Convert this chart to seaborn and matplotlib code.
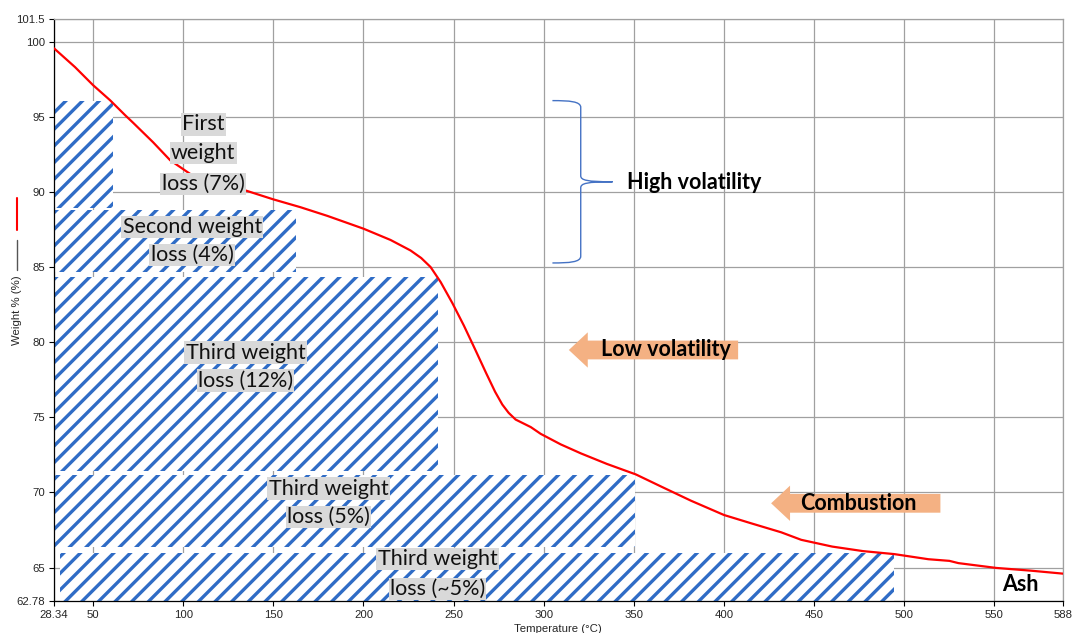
import matplotlib
matplotlib.use("Agg")
import matplotlib.pyplot as plt
from matplotlib.path import Path
from matplotlib.patches import PathPatch, FancyArrow
from matplotlib.lines import Line2D
import pandas as pd
import seaborn as sns

# ---------------------------------------------------------------------------
# Thermogravimetric curve: temperature (°C) vs remaining weight (%)
# ---------------------------------------------------------------------------
temperature = [28.34, 40, 50, 59.4, 67.8, 72.2, 83.3, 92.8, 105, 120, 134.4,
               150, 165, 180, 200, 215, 226.1, 232, 237.2, 242.8, 249.3,
               255.7, 262, 268, 273, 277, 280.5, 284.4, 292.8, 298.3,
               309.4, 320.6, 335, 351.1, 365, 381.7, 400, 415, 431.7, 442.8,
               460, 477, 494.4, 513.3, 525, 530, 551, 570, 588]
weight = [99.55, 98.3, 97.1, 96.1, 95.1, 94.6, 93.3, 92.1, 91.1, 90.5, 90.1,
          89.5, 88.98, 88.4, 87.55, 86.8, 86.1, 85.6, 85.0, 84.0, 82.6,
          81.1, 79.5, 77.95, 76.7, 75.85, 75.3, 74.85, 74.35, 73.9,
          73.2, 72.6, 71.9, 71.2, 70.4, 69.45, 68.5, 67.95, 67.35, 66.85,
          66.4, 66.1, 65.9, 65.56, 65.45, 65.3, 64.98, 64.8, 64.6]

# Weight-loss stages (hatched bands)
stage_left = [28.34, 28.34, 28.34, 28.34, 31.7]
stage_right = [61.1, 162.8, 241.1, 350.6, 494.4]
stage_top = [96.04, 88.78, 84.31, 71.18, 65.98]
stage_bottom = [88.9, 84.65, 71.45, 66.38, 62.78]

stage_lines = [["First", "weight", "loss (7%)"],
               ["Second weight", "loss (4%)"],
               ["Third weight", "loss (12%)"],
               ["Third weight", "loss (5%)"],
               ["Third weight", "loss (~5%)"]]
stage_label_x = [111.1, 105.0, 134.5, 180.6, 241.1]
stage_label_y = [[94.49, 92.58, 90.51],
                 [87.65, 85.79],
                 [79.31, 77.45],
                 [70.25, 68.38],
                 [65.58, 63.58]]

# Axis ticks
x_ticks = [28.34, 50, 100, 150, 200, 250, 300, 350, 400, 450, 500, 550, 588]
x_tick_labels = ["28.34", "50", "100", "150", "200", "250", "300", "350",
                 "400", "450", "500", "550", "588"]
y_ticks = [62.78, 65, 70, 75, 80, 85, 90, 95, 100, 101.5]
y_tick_labels = ["62.78", "65", "70", "75", "80", "85", "90", "95", "100", "101.5"]

# Volatility zones
brace_x = [304.8, 320.5, 338.2]          # open end, spine, tip
brace_y = [96.07, 90.67, 85.27]          # top, tip, bottom
arrow_names = ["Low volatility", "Combustion"]
arrow_tip_x = [313.9, 426.1]
arrow_tail_x = [407.8, 520.0]
arrow_y = [79.48, 69.28]
arrow_text_x = [332.0, 442.0]

# ---------------------------------------------------------------------------
sns.set_theme(style="white")
plt.rcParams["font.family"] = ["Liberation Sans", "DejaVu Sans"]
plt.rcParams["hatch.linewidth"] = 2.4

GRID = "#a0a0a0"
HATCH = "#2f6cc6"
HILITE = "#d9d9d9"
ORANGE = "#f4b183"
BRACE = "#4472c4"

fig = plt.figure(figsize=(10.72, 6.33), dpi=100)
ax = fig.add_axes([54 / 1072, 32 / 633, 1009 / 1072, 582 / 633])

ax.set_xlim(28.34, 588)
ax.set_ylim(62.78, 101.5)
ax.set_xticks(x_ticks)
ax.set_xticklabels(x_tick_labels)
ax.set_yticks(y_ticks)
ax.set_yticklabels(y_tick_labels)
ax.grid(True, color=GRID, linewidth=0.9)
ax.set_axisbelow(True)
ax.tick_params(axis="both", which="major", labelsize=8.2, labelcolor="#262626",
               direction="out", length=3.5, width=0.8, color="#000000", pad=3,
               bottom=True, left=True)

for side in ("left", "bottom"):
    ax.spines[side].set_color("#000000")
    ax.spines[side].set_linewidth(0.9)
for side in ("top", "right"):
    ax.spines[side].set_color(GRID)
    ax.spines[side].set_linewidth(0.9)

# Hatched stage bands
widths = [r - l for l, r in zip(stage_left, stage_right)]
heights = [t - b for t, b in zip(stage_top, stage_bottom)]
ax.bar(stage_left, heights, width=widths, bottom=stage_bottom, align="edge",
       color="white", edgecolor=HATCH, linewidth=0, hatch="//", zorder=2)

# TGA curve
curve = pd.DataFrame({"Temperature": temperature, "Weight": weight})
sns.lineplot(data=curve, x="Temperature", y="Weight", color="#ff0000",
             linewidth=1.6, ax=ax, zorder=3)
ax.set_xlabel("")
ax.set_ylabel("")

# Stage labels, highlighted line by line
label_font = dict(family=["Lato", "DejaVu Sans"], fontsize=15.5, color="#111111")
for lines, lx, ly in zip(stage_lines, stage_label_x, stage_label_y):
    for text, yy in zip(lines, ly):
        ax.text(lx, yy, text, ha="center", va="center", zorder=5,
                bbox=dict(boxstyle="square,pad=0.06", fc=HILITE, ec="none"),
                **label_font)

# Curly brace for the high-volatility zone
x0, xs, xt = brace_x
yt, ym, yb = brace_y
verts = [(x0, yt), (x0 + 0.6 * (xs - x0), yt), (xs, yt - 0.05), (xs, yt - 0.45),
         (xs, ym + 0.4),
         (xs, ym + 0.1), (xs + 0.2 * (xt - xs), ym), (xt, ym),
         (xs + 0.2 * (xt - xs), ym), (xs, ym - 0.1), (xs, ym - 0.4),
         (xs, yb + 0.45),
         (xs, yb + 0.05), (x0 + 0.6 * (xs - x0), yb), (x0, yb)]
codes = [Path.MOVETO, Path.CURVE4, Path.CURVE4, Path.CURVE4,
         Path.LINETO,
         Path.CURVE4, Path.CURVE4, Path.CURVE4,
         Path.CURVE4, Path.CURVE4, Path.CURVE4,
         Path.LINETO,
         Path.CURVE4, Path.CURVE4, Path.CURVE4]
ax.add_patch(PathPatch(Path(verts, codes), fc="none", ec=BRACE, lw=1.0, zorder=4))

bold_font = dict(family=["Lato", "DejaVu Sans"], fontsize=15.5, fontweight="bold",
                 color="#000000")
ax.text(346.2, 90.6, "High volatility", ha="left", va="center", zorder=5, **bold_font)

# Block arrows for the low-volatility and combustion zones
for name, tip, tail, yy, tx in zip(arrow_names, arrow_tip_x, arrow_tail_x,
                                   arrow_y, arrow_text_x):
    ax.add_patch(FancyArrow(tail, yy, tip - tail, 0, width=1.25, head_width=2.35,
                            head_length=10.5, length_includes_head=True,
                            fc=ORANGE, ec="none", zorder=4))
    ax.text(tx, yy, name, ha="left", va="center", zorder=5, **bold_font)

ax.text(554, 63.9, "Ash", ha="left", va="center", zorder=5, **bold_font)

# Axis titles with the series key drawn beside the y title
fig.text(558 / 1072, (633 - 624) / 633, "Temperature (°C)", ha="center", va="top",
         fontsize=8.2, color="#262626")
fig.text(17 / 1072, 1 - 310 / 633, "Weight % (%)", rotation=90, ha="center",
         va="center", fontsize=8.2, color="#262626")
fig.add_artist(Line2D([17 / 1072, 17 / 1072], [1 - 198 / 633, 1 - 230 / 633],
                      color="#ff0000", lw=1.5))
fig.add_artist(Line2D([17 / 1072, 17 / 1072], [1 - 240 / 633, 1 - 270 / 633],
                      color="#555555", lw=1.0))

fig.savefig("out.png", dpi=100)
